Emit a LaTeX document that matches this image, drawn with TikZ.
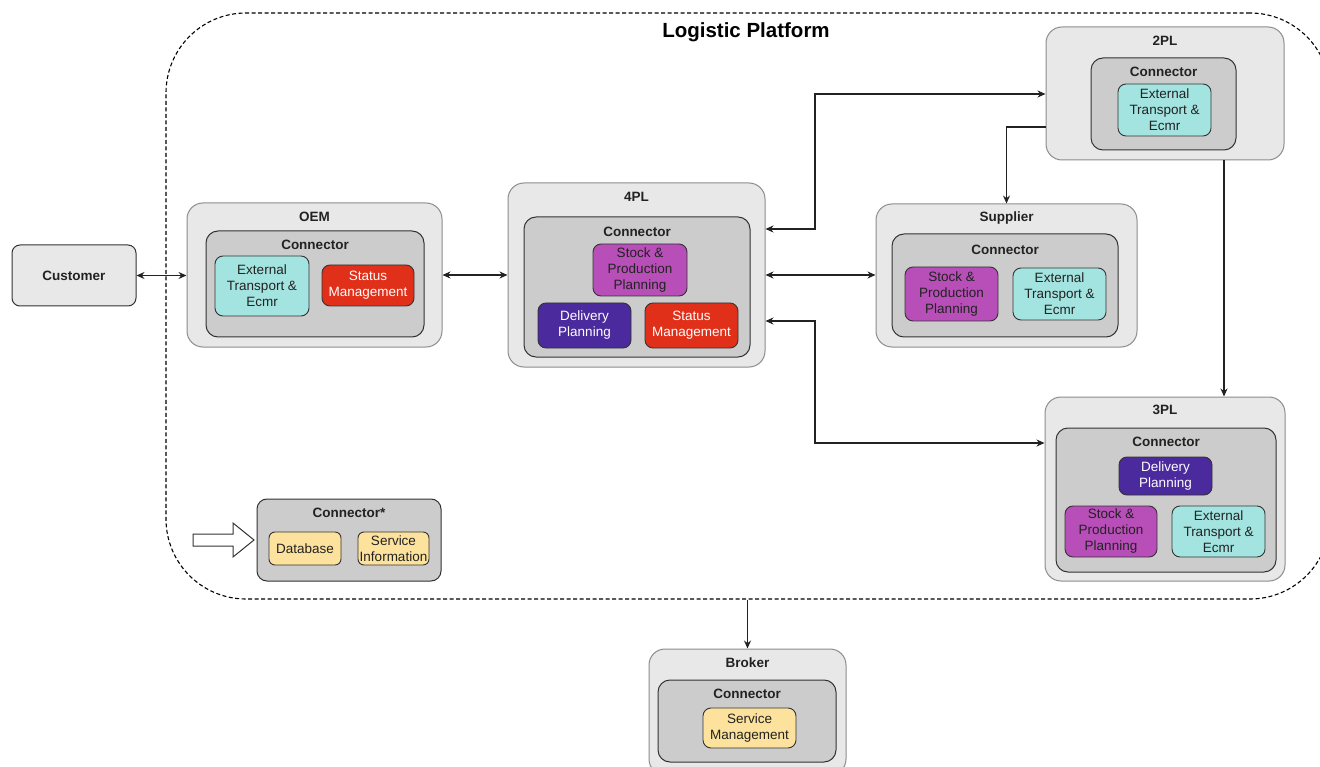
\documentclass[tikz,border=0pt]{standalone}
\usepackage{fontspec}
\setmainfont{Liberation Sans}
\usetikzlibrary{arrows.meta,calc}
\definecolor{outerfill}{HTML}{E8E8E8}
\definecolor{outerdraw}{HTML}{8C8C8C}
\definecolor{connfill}{HTML}{CCCCCC}
\definecolor{conndraw}{HTML}{333333}
\definecolor{cyanc}{HTML}{A3E4E0}
\definecolor{redc}{HTML}{E0301A}
\definecolor{magc}{HTML}{B84EB8}
\definecolor{purc}{HTML}{4A2A9C}
\definecolor{yelc}{HTML}{FCE29C}
\definecolor{txt}{HTML}{222222}
\begin{document}
\begin{tikzpicture}[x=1pt,y=-1pt,
  outer/.style={draw=outerdraw, fill=outerfill, rounded corners=16pt, line width=1pt, inner sep=0},
  conn/.style={draw=conndraw, fill=connfill, rounded corners=12pt, line width=1pt, inner sep=0},
  item/.style={draw=conndraw, rounded corners=8pt, line width=0.9pt, inner sep=0, align=center, font=\fontsize{13.5}{16}\selectfont},
  cyanbox/.style={item, fill=cyanc, text=txt},
  redbox/.style={item, fill=redc, text=white},
  magbox/.style={item, fill=magc, text=txt},
  purbox/.style={item, fill=purc, text=white},
  yelbox/.style={item, fill=yelc, text=txt},
  ttl/.style={font=\bfseries\fontsize{13.5}{16}\selectfont, text=txt, inner sep=0},
  link/.style={line width=1.2pt, draw=txt, -{Stealth[length=8pt,width=7pt]}},
  biarrow/.style={line width=1.2pt, draw=txt, {Stealth[length=8pt,width=7pt]}-{Stealth[length=8pt,width=7pt]}}
]
\useasboundingbox (0,0) rectangle (1320,767);
\clip (0,0) rectangle (1320,767);
\fill[white] (0,0) rectangle (1320,767);

% platform boundary
\node[draw=black, dash pattern=on 4pt off 2.5pt, line width=1.1pt, rounded corners=80pt,
      minimum width=1164pt, minimum height=586pt, inner sep=0] (plat) at (748,306) {};
\node[font=\bfseries\fontsize{20.5}{24}\selectfont, text=black, inner sep=0] (title) at (746,32) {Logistic Platform};

% Customer
\node[draw=conndraw, fill=outerfill, rounded corners=8pt, line width=1pt, minimum width=124pt, minimum height=61pt, inner sep=0,
      font=\bfseries\fontsize{13.5}{16}\selectfont, text=txt] (cust) at (74,275.5) {Customer};

% OEM
\node[outer, minimum width=255pt, minimum height=144pt] (oem) at (314.5,275) {};
\node[ttl] (oemlbl) at (314.5,217) {OEM};
\node[conn, minimum width=218pt, minimum height=106pt] (oemc) at (315,284) {};
\node[ttl] (oemclbl) at (315,245) {Connector};
\node[cyanbox, minimum width=94pt, minimum height=60pt] (oemext) at (262,286) {External\\Transport \&\\Ecmr};
\node[redbox, minimum width=92pt, minimum height=41pt] (oemstat) at (368,285.5) {Status\\Management};

% 4PL
\node[outer, minimum width=257pt, minimum height=184pt] (fourpl) at (636.5,275) {};
\node[ttl] (fourpllbl) at (636.5,197) {4PL};
\node[conn, minimum width=226pt, minimum height=140pt] (fourplc) at (637,287) {};
\node[ttl] (fourplclbl) at (637,232) {Connector};
\node[magbox, minimum width=94pt, minimum height=52pt] (fstock) at (640,270) {Stock \&\\Production\\Planning};
\node[purbox, minimum width=93pt, minimum height=45pt] (fdeliv) at (584.5,325.5) {Delivery\\Planning};
\node[redbox, minimum width=93pt, minimum height=45pt] (fstat) at (691.5,325.5) {Status\\Management};

% 2PL
\node[outer, minimum width=238pt, minimum height=133pt] (twopl) at (1165,93.5) {};
\node[ttl] (twopllbl) at (1165,41) {2PL};
\node[conn, minimum width=145pt, minimum height=92pt] (twoplc) at (1163.5,104) {};
\node[ttl] (twoplclbl) at (1163.5,72) {Connector};
\node[cyanbox, minimum width=93pt, minimum height=52pt] (twoext) at (1164.5,110) {External\\Transport \&\\Ecmr};

% Supplier
\node[outer, minimum width=261pt, minimum height=143pt] (sup) at (1006.5,275.5) {};
\node[ttl] (suplbl) at (1006.5,218) {Supplier};
\node[conn, minimum width=226pt, minimum height=103pt] (supc) at (1005,285.5) {};
\node[ttl] (supclbl) at (1005,250) {Connector};
\node[magbox, minimum width=93pt, minimum height=54pt] (sstock) at (951.5,294) {Stock \&\\Production\\Planning};
\node[cyanbox, minimum width=93pt, minimum height=52pt] (sext) at (1059.5,294) {External\\Transport \&\\Ecmr};

% 3PL
\node[outer, minimum width=240pt, minimum height=184pt] (threepl) at (1165,489) {};
\node[ttl] (threepllbl) at (1165,410) {3PL};
\node[conn, minimum width=220pt, minimum height=144pt] (threeplc) at (1166,500) {};
\node[ttl] (threeplclbl) at (1166,442) {Connector};
\node[purbox, minimum width=93pt, minimum height=38pt] (tdeliv) at (1165.5,476) {Delivery\\Planning};
\node[magbox, minimum width=92pt, minimum height=51pt] (tstock) at (1111,531.5) {Stock \&\\Production\\Planning};
\node[cyanbox, minimum width=93pt, minimum height=51pt] (text) at (1218.5,531.5) {External\\Transport \&\\Ecmr};

% Connector* legend
\node[conn, rounded corners=10pt, minimum width=184pt, minimum height=82pt] (legend) at (349,540) {};
\node[ttl] (legendlbl) at (349,513) {Connector*};
\node[yelbox, rounded corners=6pt, minimum width=72pt, minimum height=33pt] (db) at (305,548.5) {Database};
\node[yelbox, rounded corners=6pt, minimum width=71pt, minimum height=33pt] (svcinfo) at (393.5,548.5) {Service\\Information};
\draw[draw=conndraw, fill=white, line width=1pt, line join=miter]
  (193,534) -- (233,534) -- (233,523) -- (254,540) -- (233,557) -- (233,546) -- (193,546) -- cycle;

% Broker
\node[outer, minimum width=197pt, minimum height=126pt] (broker) at (747.5,712) {};
\node[ttl] (brokerlbl) at (747.5,663) {Broker};
\node[conn, minimum width=178pt, minimum height=82pt] (brokerc) at (747,721) {};
\node[ttl] (brokerclbl) at (747,694) {Connector};
\node[yelbox, minimum width=93pt, minimum height=40pt] (svcman) at (749.5,728) {Service\\Management};

% connectors
\draw[biarrow] (cust.east) -- (cust.east -| oem.west);
\draw[biarrow] (oem.east) -- (oem.east -| fourpl.west);
\draw[biarrow] (fourpl.east) -- (fourpl.east -| sup.west);
\draw[biarrow] (fourpl.east |- 0,229) -- (815,229) |- (twopl.west |- 0,94);
\draw[biarrow] (fourpl.east |- 0,321) -- (815,321) |- (threepl.west |- 0,443);
\draw[link] (twopl.west |- 0,127) -| (sup.north);
\draw[link] (twopl.south -| 1224,0) -- (threepl.north -| 1224,0);
\draw[link] (broker.north |- plat.south) -- (broker.north);
\end{tikzpicture}
\end{document}
